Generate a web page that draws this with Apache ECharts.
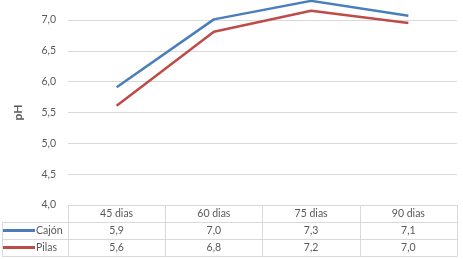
<!DOCTYPE html>
<html>
<head>
<meta charset="utf-8">
<script src="https://cdn.jsdelivr.net/npm/echarts@6/dist/echarts.min.js"></script>
<style>html,body{margin:0;padding:0;background:#fff}#c{width:463px;height:259px}</style>
</head>
<body>
<div id="c"></div>
<script>
const categories = ['45 dias', '60 dias', '75 dias', '90 dias'];
const seriesNames = ['Cajón', 'Pilas'];
const cajon = [5.91, 7.01, 7.31, 7.07];
const pilas = [5.61, 6.81, 7.15, 6.95];
const yTicks = [4.0, 4.5, 5.0, 5.5, 6.0, 6.5, 7.0];

const fmt = v => v.toFixed(1).replace('.', ',');
const cajonLabels = cajon.map(fmt);
const pilasLabels = pilas.map(fmt);

const FONT = 'Lato';
const GRAY = '#595959';
const LINE = '#D9D9D9';
const labelStyle = { fontFamily: FONT, fontSize: 10.5, color: GRAY, margin: 0, lineHeight: 17, verticalAlign: 'top' };

const chart = echarts.init(document.getElementById('c'), null, { renderer: 'canvas' });
chart.setOption({
  animation: false,
  backgroundColor: '#fff',
  grid: { left: 68, right: 6, top: 20, bottom: 54, containLabel: false },
  legend: {
    orient: 'vertical', left: 3, top: 222, padding: 0, itemGap: 0,
    itemWidth: 32, itemHeight: 3, icon: 'rect',
    textStyle: { fontFamily: FONT, fontSize: 10.5, color: GRAY, lineHeight: 17, padding: [0, 0, 0, -4] },
    data: seriesNames
  },
  xAxis: [
    { type: 'category', data: categories, position: 'bottom', offset: 0,
      axisLine: { show: true, lineStyle: { color: LINE, width: 1 } },
      axisTick: { show: true, length: 51, interval: 0, lineStyle: { color: LINE, width: 1 } },
      axisLabel: labelStyle },
    { type: 'category', data: cajonLabels, position: 'bottom', offset: 17,
      axisLine: { show: true, lineStyle: { color: LINE, width: 1 } },
      axisTick: { show: false }, axisLabel: labelStyle },
    { type: 'category', data: pilasLabels, position: 'bottom', offset: 34,
      axisLine: { show: true, lineStyle: { color: LINE, width: 1 } },
      axisTick: { show: false }, axisLabel: labelStyle },
    { type: 'category', data: categories, position: 'bottom', offset: 51,
      axisLine: { show: true, lineStyle: { color: LINE, width: 1 } },
      axisTick: { show: false }, axisLabel: { show: false } }
  ],
  yAxis: {
    type: 'value', min: yTicks[0], max: yTicks[yTicks.length - 1], interval: 0.5,
    name: 'pH', nameLocation: 'middle', nameGap: 44, nameRotate: 90,
    nameTextStyle: { fontFamily: FONT, fontSize: 12, fontWeight: 'bold', color: GRAY },
    axisLine: { show: false }, axisTick: { show: false },
    axisLabel: { fontFamily: FONT, fontSize: 10.5, color: GRAY, margin: 12, formatter: v => fmt(v) },
    splitLine: { lineStyle: { color: LINE, width: 1 } }
  },
  series: [
    { name: seriesNames[0], type: 'line', data: cajon, symbol: 'none', clip: false,
      lineStyle: { color: '#4A7EBB', width: 2.5 }, itemStyle: { color: '#4A7EBB' } },
    { name: seriesNames[1], type: 'line', data: pilas, symbol: 'none', clip: false,
      lineStyle: { color: '#BE4B48', width: 2.5 }, itemStyle: { color: '#BE4B48' } }
  ],
  graphic: [
    { type: 'line', shape: { x1: 2.5, y1: 222, x2: 2.5, y2: 256 }, style: { stroke: LINE, lineWidth: 1 } },
    { type: 'line', shape: { x1: 2, y1: 222.5, x2: 68, y2: 222.5 }, style: { stroke: LINE, lineWidth: 1 } },
    { type: 'line', shape: { x1: 2, y1: 239.5, x2: 68, y2: 239.5 }, style: { stroke: LINE, lineWidth: 1 } },
    { type: 'line', shape: { x1: 2, y1: 256.5, x2: 68, y2: 256.5 }, style: { stroke: LINE, lineWidth: 1 } }
  ]
});
</script>
</body>
</html>
